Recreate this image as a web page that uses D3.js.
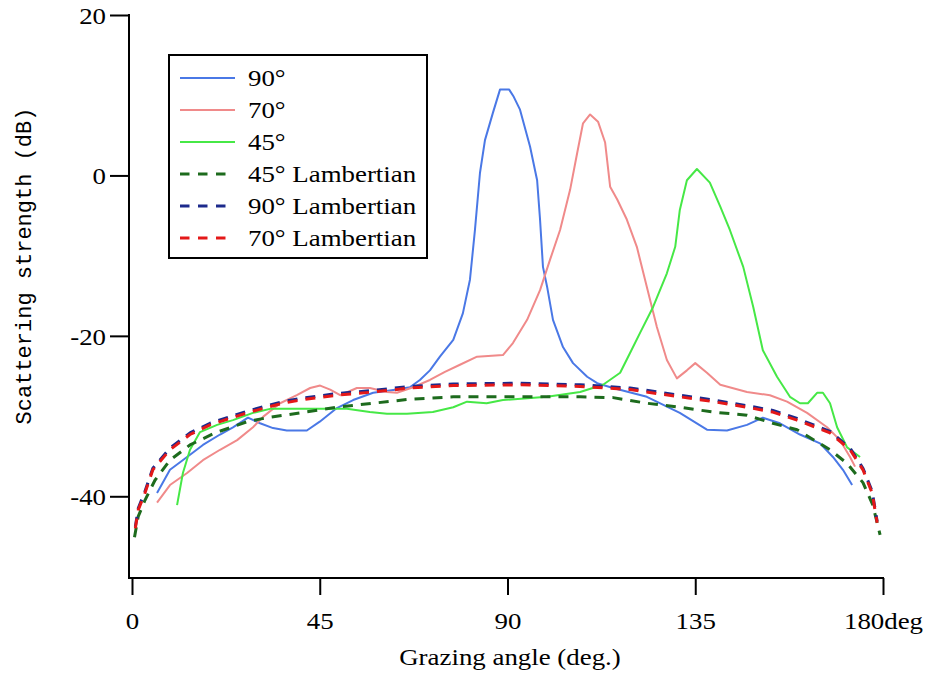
<!DOCTYPE html>
<html>
<head>
<meta charset="utf-8">
<script src="https://cdn.jsdelivr.net/npm/d3@7"></script>
<style>
body { margin: 0; background: #fff; }
</style>
</head>
<body>
<svg id="chart"></svg>
<script>
var width = 930,
    height = 674;

// axis ticks
var xTicks = [0, 45, 90, 135, 180];
var yTicks = [20, 0, -20, -40];

var seriesNames = ["90°", "70°", "45°", "45° Lambertian", "90° Lambertian", "70° Lambertian"];

// [grazing angle, dB]
var meas90 = [[6, -39.6], [9.1, -36.7], [13.2, -35.1], [17, -33.6], [21.1, -32.3], [24.2, -31.4],
    [27.8, -30.2], [30.7, -30.9], [33.8, -31.5], [37.1, -31.8], [41.9, -31.8], [45, -30.7],
    [49.1, -29], [53, -28], [57.8, -27.1], [63.5, -26.7], [66.6, -26.4], [69, -25.5],
    [71.4, -24.3], [73.8, -22.6], [77, -20.5], [79.3, -17.2], [81, -13], [82.2, -6.8],
    [83.4, 0.3], [84.6, 4.4], [86.5, 7.8], [88.2, 10.7], [90.4, 10.7], [91.5, 9.8], [93, 8.2],
    [95.4, 3.6], [97.1, -0.6], [97.8, -5.5], [98.5, -11.4], [99.5, -13.9], [100.9, -18],
    [103.3, -21.4], [105.7, -23.4], [109.1, -25.1], [111.5, -25.9], [115.3, -26.5],
    [123.4, -27.6], [131.3, -29.6], [137.8, -31.7], [142.6, -31.8], [147.4, -31.1],
    [151.2, -30.2], [155.3, -30.9], [160.1, -32.3], [164.9, -33.4], [168, -35.1],
    [170.4, -36.7], [172.6, -38.6]];

var meas70 = [[6, -40.8], [9.1, -38.6], [13.2, -37.1], [17, -35.5], [21.1, -34.2], [25.2, -33],
    [29, -31.4], [31.4, -30.1], [35.5, -28.4], [39.5, -27.4], [42.7, -26.5], [45.1, -26.2],
    [47.5, -26.7], [49.9, -27.4], [53.9, -26.5], [57, -26.5], [61.1, -27], [63.5, -27.1],
    [67.4, -26.4], [71.4, -25.5], [75, -24.5], [78.6, -23.6], [82.7, -22.6], [88.9, -22.4],
    [91.3, -20.9], [94.7, -18], [97.8, -14.3], [100.2, -10.5], [102.6, -6.8], [105, -1.8],
    [106.7, 2.8], [108.1, 6.5], [109.8, 7.6], [111.7, 6.7], [113.4, 4.1], [114.6, -1.4],
    [116.3, -3], [118.6, -5.5], [121, -8.9], [123.4, -13.9], [125.8, -18.9], [128.2, -23],
    [130.6, -25.3], [133, -24.3], [135, -23.4], [137.8, -24.6], [141, -26.1], [147.4, -27],
    [152.9, -27.4], [157, -28.2], [161.8, -29.6], [166.6, -31.4], [169.7, -33], [172.1, -35.1],
    [173.3, -36.3]];

var meas45 = [[10.8, -41.1], [12.2, -37.1], [13.9, -34.2], [16.3, -32], [20.4, -31.1],
    [24.2, -30.5], [29, -29.6], [33.1, -29.1], [41.9, -29.1], [51.5, -29.1], [57, -29.5],
    [61.1, -29.7], [65.9, -29.7], [72.1, -29.5], [77, -28.9], [80.3, -28.2], [85, -28.4],
    [88.9, -28], [99.5, -27.6], [107.4, -27], [112.9, -26.1], [117, -24.6], [119.4, -22.1],
    [121.8, -19.6], [124.9, -16.4], [128.2, -12.2], [130.2, -8.9], [131.3, -4.3], [133, -0.6],
    [135.4, 0.8], [138.5, -0.9], [141, -3.9], [143.3, -6.8], [146.5, -11.4], [148.9, -16.4],
    [151.2, -21.8], [154.6, -25.1], [157.7, -27.6], [160.1, -28.4], [162, -28.4], [164.2, -27.1],
    [165.6, -27.1], [167.3, -28.4], [169, -31.4], [171.4, -33.9], [174.5, -35.1]];

var lamb45 = [[0.6, -45.1], [1.5, -42.5], [3.1, -40.5], [5.5, -38], [9.1, -35.5], [13.9, -33.6],
    [19.9, -32.1], [27.6, -30.7], [32.4, -30.2], [40.3, -29.6], [49, -28.9], [57.8, -28.4],
    [66.6, -27.9], [77, -27.6], [93, -27.6], [107.4, -27.6], [115.3, -27.7], [123.4, -28.4],
    [131.3, -28.9], [139.3, -29.5], [147.4, -29.9], [153.6, -30.9], [159.4, -31.7],
    [167.3, -34.2], [171.4, -35.9], [175.2, -38.3], [177.5, -41], [178.6, -43.3], [179.3, -44.8]];

var lamb90 = [[0.8, -43.8], [1.5, -41.5], [3.1, -39.4], [5, -36.5], [9.1, -34], [13.9, -32.1],
    [18.7, -30.9], [22.8, -30.2], [27.6, -29.4], [32.4, -28.7], [36.2, -28.2], [40.3, -27.8],
    [49, -27.2], [57.8, -26.8], [66.6, -26.3], [77, -26], [93, -25.9], [107.4, -26.1],
    [119.4, -26.5], [131.3, -27.4], [139.3, -28], [147.4, -28.7], [153.6, -29.3],
    [159.4, -30.3], [167.3, -31.9], [172.1, -34], [175.2, -36.5], [177.4, -39.4], [178.6, -43.1]];

var lamb70 = [[0.8, -44], [1.5, -41.7], [3.1, -39.6], [5, -36.7], [9.1, -34.2], [13.9, -32.3],
    [18.7, -31.1], [22.8, -30.4], [27.6, -29.6], [32.4, -28.9], [36.2, -28.4], [40.3, -28],
    [49, -27.4], [57.8, -27], [66.6, -26.5], [77, -26.2], [93, -26.1], [107.4, -26.3],
    [119.4, -26.7], [131.3, -27.6], [139.3, -28.2], [147.4, -28.9], [153.6, -29.5],
    [159.4, -30.5], [167.3, -32.1], [172.1, -34.2], [175.2, -36.7], [177.4, -39.6], [178.6, -43.3]];

var seriesData = [meas90, meas70, meas45, lamb45, lamb90, lamb70];
var seriesColors = ["#4a78e6", "#f08a8a", "#46e846", "#1d6b1d", "#1c2a8c", "#e41818"];
var seriesDashed = [false, false, false, true, true, true];

var serif = "'Liberation Serif', 'Times New Roman', Tinos, Times, 'DejaVu Serif', serif";
var stretch = 1.12;   // the figure's lettering is wide

var svg = d3.select("#chart")
    .attr("width", width)
    .attr("height", height);

var x = d3.scaleLinear().domain([0, 180]).range([132, 883]),
    y = d3.scaleLinear().domain([-50, 20]).range([576.5, 15]);

var line = d3.line()
    .x(function (d) { return x(d[0]); })
    .y(function (d) { return y(d[1]); });

// curves, solid first then the Lambertian dashes on top
svg.append("g").selectAll("path")
    .data(seriesData)
    .enter()
    .append("path")
    .attr("d", function (d) { return line(d); })
    .attr("fill", "none")
    .attr("stroke", function (d, i) { return seriesColors[i]; })
    .attr("stroke-width", function (d, i) { return seriesDashed[i] ? 3 : 2; })
    .attr("stroke-dasharray", function (d, i) { return seriesDashed[i] ? "10,8" : null; })
    .attr("stroke-linejoin", "round");

// y axis
var yAxis = svg.append("g")
    .attr("transform", "translate(129,0)")
    .call(d3.axisLeft(y).tickValues(yTicks).tickSize(19).tickFormat(function (d) { return String(d); }));
yAxis.attr("font-family", serif);
yAxis.select(".domain").remove();
yAxis.selectAll(".tick line").attr("stroke", "#000").attr("stroke-width", 2);
yAxis.selectAll(".tick text")
    .attr("x", 0)
    .attr("dy", "0.34em")
    .attr("transform", "translate(-23,0) scale(" + stretch + ",1)")
    .attr("font-family", serif)
    .attr("font-size", 24);
svg.append("line")
    .attr("x1", 129).attr("x2", 129)
    .attr("y1", y(20) - 1).attr("y2", 578)
    .attr("stroke", "#000").attr("stroke-width", 2);

// x axis
var xAxis = svg.append("g")
    .attr("transform", "translate(0,578)")
    .call(d3.axisBottom(x).tickValues(xTicks).tickSize(17)
        .tickFormat(function (d) { return d === 180 ? "180deg" : String(d); }));
xAxis.attr("font-family", serif);
xAxis.select(".domain").remove();
xAxis.selectAll(".tick line").attr("stroke", "#000").attr("stroke-width", 2);
xAxis.selectAll(".tick text")
    .attr("y", 0)
    .attr("dy", 0)
    .attr("transform", "translate(0,51) scale(" + stretch + ",1)")
    .attr("font-family", serif)
    .attr("font-size", 24);
svg.append("line")
    .attr("x1", 128).attr("x2", 884)
    .attr("y1", 578).attr("y2", 578)
    .attr("stroke", "#000").attr("stroke-width", 2);

// axis titles
svg.append("text")
    .attr("transform", "translate(510,665) scale(" + stretch + ",1)")
    .attr("text-anchor", "middle")
    .attr("font-family", serif)
    .attr("font-size", 24)
    .text("Grazing angle (deg.)");

svg.append("text")
    .attr("transform", "translate(31,266) rotate(-90)")
    .attr("text-anchor", "middle")
    .attr("font-family", "'Liberation Mono', 'Courier New', monospace")
    .attr("font-size", 22)
    .text("Scattering strength (dB)");

// legend
var legend = svg.append("g");
legend.append("rect")
    .attr("x", 169).attr("y", 55)
    .attr("width", 258).attr("height", 203)
    .attr("fill", "#fff")
    .attr("stroke", "#000")
    .attr("stroke-width", 2);

var rows = legend.selectAll("g.row")
    .data(seriesNames)
    .enter()
    .append("g")
    .attr("class", "row")
    .attr("transform", function (d, i) { return "translate(0," + (78 + i * 32) + ")"; });

rows.append("line")
    .attr("x1", 180)
    .attr("x2", function (d, i) { return seriesDashed[i] ? 227 : 235; })
    .attr("y1", 0).attr("y2", 0)
    .attr("stroke", function (d, i) { return seriesColors[i]; })
    .attr("stroke-width", function (d, i) { return seriesDashed[i] ? 3 : 2; })
    .attr("stroke-dasharray", function (d, i) { return seriesDashed[i] ? "9.5,8.5" : null; });

rows.append("text")
    .attr("transform", "translate(248,8) scale(" + stretch + ",1)")
    .attr("font-family", serif)
    .attr("font-size", 24)
    .text(function (d) { return d; });
</script>
</body>
</html>
